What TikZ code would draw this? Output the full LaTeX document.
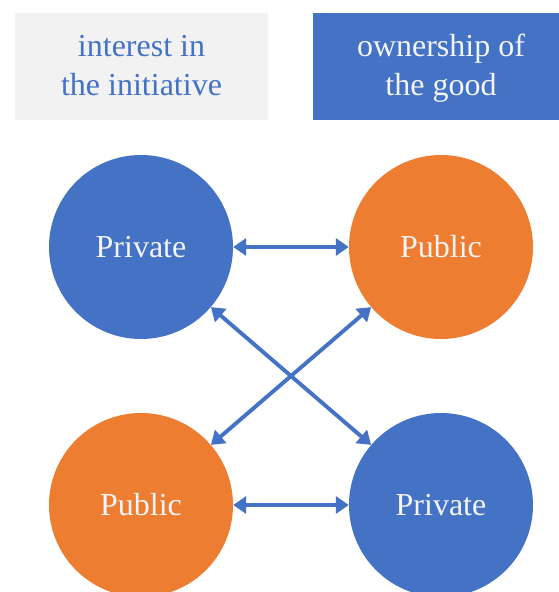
\documentclass[tikz,border=0pt]{standalone}
\usepackage{fontspec}
\setmainfont{Liberation Serif}
\usetikzlibrary{arrows.meta}
\definecolor{obBlue}{HTML}{4472C4}
\definecolor{obOrange}{HTML}{ED7D31}
\definecolor{obGray}{HTML}{F2F2F2}
\definecolor{obWhite}{HTML}{F4F4F4}
\tikzset{
  headbox/.style={rectangle, inner sep=0pt, align=center, font=\fontsize{32}{38.5}\selectfont},
  circ/.style={circle, minimum size=184pt, inner sep=0pt, text=obWhite, font=\fontsize{32}{38}\selectfont},
  arr/.style={draw=obBlue, line width=3.9pt, {Triangle[length=13pt,width=17pt]}-{Triangle[length=13pt,width=17pt]}}
}
\begin{document}
\begin{tikzpicture}[x=1pt,y=-1pt]
\useasboundingbox (0,0) rectangle (559,592);
\clip (0,0) rectangle (559,592);
\fill[obGray] (15,13) rectangle (268,120);
\fill[obBlue] (313,13) rectangle (569,120);
\node[headbox, text=obBlue] (lbox) at (141.5,68.5) {\strut interest in\\\strut the initiative};
\node[headbox, text=obWhite] (rbox) at (441,68.5) {\strut ownership of\\\strut the good};
\node[circ, fill=obBlue] (tl) at (141,247) {Private};
\node[circ, fill=obOrange] (tr) at (441,247) {Public};
\node[circ, fill=obOrange] (bl) at (141,505) {Public};
\node[circ, fill=obBlue] (br) at (441,505) {Private};
\draw[arr] (tl) -- (tr);
\draw[arr] (bl) -- (br);
\draw[arr] (tl) -- (br);
\draw[arr] (bl) -- (tr);
\end{tikzpicture}
\end{document}
